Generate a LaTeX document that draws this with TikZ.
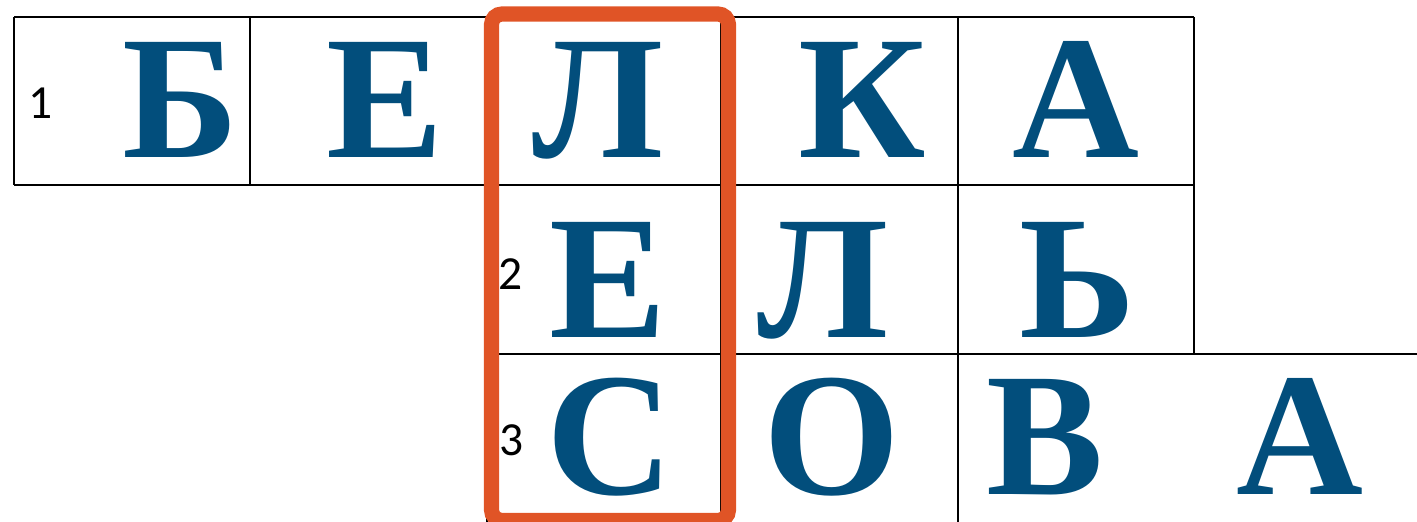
\documentclass[tikz,border=0pt]{standalone}
\usepackage{fontspec}
\setmainfont{Liberation Serif}
\newfontfamily\numfont{Carlito}
\definecolor{letterblue}{RGB}{2,78,124}
\definecolor{hlorange}{RGB}{224,84,38}
\tikzset{
  gridline/.style={line width=0.7pt, black},
  letter/.style={anchor=base, inner sep=0pt, text=letterblue, font=\fontsize{50}{60}\selectfont\bfseries},
  numlabel/.style={anchor=base, inner sep=0pt, text=black, font=\numfont\fontsize{13.5}{16}\selectfont},
  highlight/.style={draw=hlorange, line width=4.3pt, rounded corners=3pt}
}
\begin{document}
\begin{tikzpicture}[x=0.01cm,y=-0.01cm]
\useasboundingbox (0,0) rectangle (1417,522);
\clip (0,0) rectangle (1417,522);
% grid
\draw[gridline] (14,17) -- (1194,17);
\draw[gridline] (14,185) -- (1194,185);
\draw[gridline] (487,354) -- (1417,354);
\draw[gridline] (14,17) -- (14,185);
\draw[gridline] (250,17) -- (250,185);
\draw[gridline] (487,17) -- (487,522);
\draw[gridline] (721,17) -- (721,522);
\draw[gridline] (958,17) -- (958,522);
\draw[gridline] (1194,17) -- (1194,354);
% letters row 1
\node[letter] (b1) at (181,158) {Б};
\node[letter] (e1) at (385,158) {Е};
\node[letter] (l1) at (598,158) {Л};
\node[letter] (k1) at (862,158) {К};
\node[letter] (a1) at (1076,158) {А};
% row 2
\node[letter] (e2) at (608,338) {Е};
\node[letter] (l2) at (823,338) {Л};
\node[letter] (s2) at (1078,338) {Ь};
% row 3
\node[letter] (c3) at (610,495) {С};
\node[letter] (o3) at (832,495) {О};
\node[letter] (v3) at (1045,495) {В};
\node[letter] (a3) at (1300,495) {А};
% numbers
\node[numlabel] (n1) at (41,119) {1};
\node[numlabel] (n2) at (511,290) {2};
\node[numlabel] (n3) at (512,456) {3};
% highlight
\draw[highlight] (491.5,14) rectangle (728.5,520.5);
\end{tikzpicture}
\end{document}
